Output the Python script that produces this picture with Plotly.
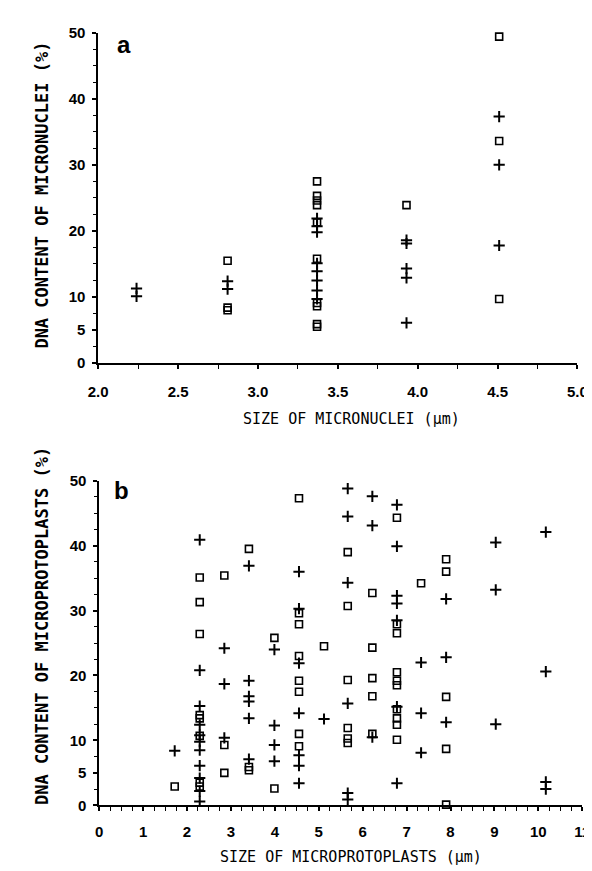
import plotly.graph_objects as go

W, H = 592, 871

# ---------------- data: panel a (micronuclei) ----------------
a_sizes = [2.24, 2.81, 3.37, 3.93, 4.51]
a_square_values = [
    [],
    [15.5, 8.4, 8.0],
    [27.5, 25.3, 24.6, 23.9, 21.3, 15.8, 9.1, 8.6, 5.9, 5.5],
    [23.9],
    [49.4, 33.6, 9.7],
]
a_plus_values = [
    [11.3, 10.1],
    [12.4, 11.2],
    [21.9, 20.7, 19.8, 15.1, 13.9, 12.5, 11.0, 9.7],
    [18.6, 18.1, 14.3, 12.9, 6.1],
    [37.3, 30.0, 17.8],
]
a_xticks = [2.0, 2.5, 3.0, 3.5, 4.0, 4.5, 5.0]
a_xticklabels = ["2.0", "2.5", "3.0", "3.5", "4.0", "4.5", "5.0"]

# ---------------- data: panel b (microprotoplasts) ----------------
b_sizes = [1.72, 2.29, 2.85, 3.41, 3.99, 4.55, 5.12, 5.66, 6.22, 6.78, 7.33, 7.90, 9.03, 10.17]
b_square_values = [
    [2.9],
    [35.1, 31.3, 26.4, 13.9, 13.4, 10.7, 3.5, 2.9],
    [35.4, 9.3, 5.0],
    [39.5, 5.9, 5.4],
    [25.8, 2.6],
    [47.3, 29.6, 27.9, 23.0, 19.2, 17.5, 11.0, 9.1],
    [24.5],
    [39.0, 30.7, 19.3, 11.9, 10.3, 9.6],
    [32.7, 24.3, 19.6, 16.8, 11.0],
    [44.3, 27.9, 26.5, 20.5, 19.2, 18.5, 14.8, 13.4, 12.4, 10.1],
    [34.2],
    [37.9, 36.0, 16.7, 8.7, 0.1],
    [],
    [],
]
b_plus_values = [
    [8.4],
    [40.9, 20.8, 15.3, 12.4, 10.8, 9.8, 8.5, 6.1, 4.2, 2.2, 0.6],
    [24.2, 18.7, 10.4],
    [36.9, 19.2, 16.8, 16.0, 13.4, 7.1],
    [24.0, 12.3, 9.3, 6.8],
    [36.0, 30.3, 21.9, 14.2, 7.7, 6.1, 3.4],
    [13.3],
    [48.8, 44.5, 34.3, 15.7, 1.9, 0.9],
    [47.6, 43.1, 10.5],
    [46.3, 39.9, 32.3, 31.1, 28.5, 15.2, 3.4],
    [22.0, 14.2, 8.1],
    [31.8, 22.8, 12.8],
    [40.5, 33.2, 12.5],
    [42.1, 20.6, 3.6, 2.5],
]
b_xticks = list(range(0, 12))
b_xticklabels = [str(v) for v in b_xticks]

y_ticks = [0, 5, 10, 20, 30, 40, 50]
y_ticklabels = ["0", "5", "10", "20", "30", "40", "50"]


def expand(sizes, groups):
    xs, ys = [], []
    for s, g in zip(sizes, groups):
        for v in g:
            xs.append(s)
            ys.append(v)
    return xs, ys


def px_x(p):
    return p / W


def px_y(p):
    return 1 - p / H


fig = go.Figure()

sq_marker = dict(symbol="square-open", size=7, color="black", line=dict(width=1.6, color="black"))
plus_marker = dict(symbol="cross-thin", size=8, color="black", line=dict(width=2, color="black"))

ax, ay = expand(a_sizes, a_square_values)
fig.add_trace(go.Scatter(x=ax, y=ay, mode="markers", marker=sq_marker, xaxis="x", yaxis="y",
                         cliponaxis=False, showlegend=False))
ax, ay = expand(a_sizes, a_plus_values)
fig.add_trace(go.Scatter(x=ax, y=ay, mode="markers", marker=plus_marker, xaxis="x", yaxis="y",
                         cliponaxis=False, showlegend=False))
bx, by = expand(b_sizes, b_square_values)
fig.add_trace(go.Scatter(x=bx, y=by, mode="markers", marker=sq_marker, xaxis="x2", yaxis="y2",
                         cliponaxis=False, showlegend=False))
bx, by = expand(b_sizes, b_plus_values)
fig.add_trace(go.Scatter(x=bx, y=by, mode="markers", marker=plus_marker, xaxis="x2", yaxis="y2",
                         cliponaxis=False, showlegend=False))

tickfont = dict(family="Liberation Sans", size=15, color="black", weight="bold")

common_x = dict(showgrid=False, zeroline=False, showline=True, linecolor="black", linewidth=2,
                ticks="outside", ticklen=4, tickwidth=1.5, tickcolor="black",
                tickfont=tickfont, tickmode="array", ticklabeloverflow="allow")
common_y = dict(showgrid=False, zeroline=False, showline=True, linecolor="black", linewidth=1.5,
                ticks="outside", ticklen=4, tickwidth=1.5, tickcolor="black",
                tickfont=tickfont, tickmode="array", tickvals=y_ticks, ticktext=y_ticklabels,
                range=[0, 50], ticklabelstandoff=4,
                minor=dict(tick0=0, dtick=2.5, ticks="outside", ticklen=3, tickwidth=1.2, tickcolor="black"))

fig.update_layout(
    width=W, height=H,
    margin=dict(l=0, r=0, t=0, b=0),
    paper_bgcolor="white", plot_bgcolor="white",
    xaxis=dict(common_x, domain=[px_x(83), px_x(579)], range=[2.0, 5.0], anchor="y",
               tickvals=a_xticks, ticktext=a_xticklabels, ticklabelstandoff=10,
               minor=dict(tick0=2.0, dtick=0.25, ticks="outside", ticklen=4, tickwidth=1.2, tickcolor="black")),
    yaxis=dict(common_y, domain=[px_y(353), px_y(16)], anchor="x"),
    xaxis2=dict(common_x, domain=[px_x(84), px_x(584)], range=[0, 11], anchor="y2",
                tickvals=b_xticks, ticktext=b_xticklabels, ticklabelstandoff=8,
                minor=dict(tick0=0, dtick=0.25, ticks="outside", ticklen=4, tickwidth=1.2, tickcolor="black")),
    yaxis2=dict(common_y, domain=[px_y(804), px_y(473)], anchor="x2"),
)

title_mono_bold = dict(family="DejaVu Sans Mono", size=17, color="black", weight="bold")
title_mono = dict(family="DejaVu Sans Mono", size=15, color="black")

fig.add_annotation(text="DNA CONTENT OF MICRONUCLEI (%)", textangle=-90, xref="paper", yref="paper",
                   x=px_x(25), y=px_y(182), showarrow=False, font=title_mono_bold,
                   xanchor="center", yanchor="middle")
fig.add_annotation(text="SIZE OF MICRONUCLEI (µm)", xref="paper", yref="paper",
                   x=px_x(345), y=px_y(410), showarrow=False, font=title_mono,
                   xanchor="center", yanchor="middle")
fig.add_annotation(text="DNA CONTENT OF MICROPROTOPLASTS (%)", textangle=-90, xref="paper", yref="paper",
                   x=px_x(25), y=px_y(621), showarrow=False, font=title_mono_bold,
                   xanchor="center", yanchor="middle")
fig.add_annotation(text="SIZE OF MICROPROTOPLASTS (µm)", xref="paper", yref="paper",
                   x=px_x(345), y=px_y(857), showarrow=False, font=title_mono,
                   xanchor="center", yanchor="middle")

panel_font = dict(family="Liberation Sans", size=24, color="black", weight="bold")
fig.add_annotation(text="a", xref="paper", yref="paper", x=px_x(110), y=px_y(28), showarrow=False,
                   font=panel_font, xanchor="center", yanchor="middle")
fig.add_annotation(text="b", xref="paper", yref="paper", x=px_x(107), y=px_y(483), showarrow=False,
                   font=panel_font, xanchor="center", yanchor="middle")

fig.write_html("out.html")
